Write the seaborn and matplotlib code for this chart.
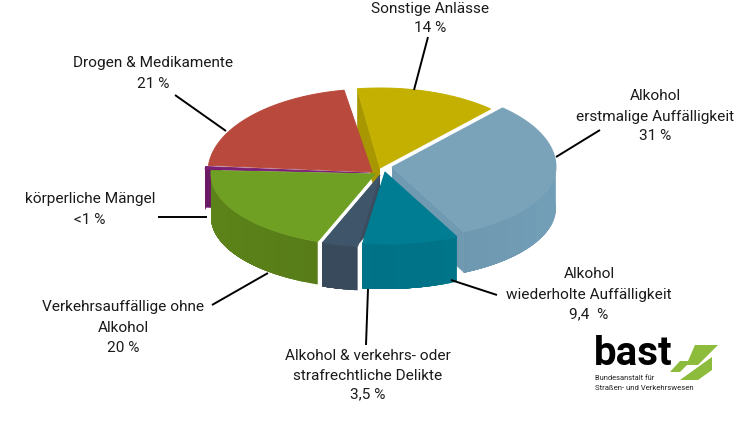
import numpy as np
import matplotlib
matplotlib.use("Agg")
import matplotlib.pyplot as plt
import seaborn as sns

# data, clockwise from the top
shares = [14, 31, 9.4, 3.5, 20, 0.6, 21]
names = ["Sonstige Anlässe", "Alkohol erstmalige Auffälligkeit",
         "Alkohol wiederholte Auffälligkeit",
         "Alkohol & verkehrs- oder strafrechtliche Delikte",
         "Verkehrsauffällige ohne Alkohol", "körperliche Mängel",
         "Drogen & Medikamente"]
top_colors = ["#c4b000", "#7aa3ba", "#007d92", "#3f566a",
              "#70a023", "#7a1f73", "#b8493c"]
side_colors = ["#a89700", "#6f9ab2", "#00768c", "#3b4c5f",
               "#5a8019", "#6a1a64", "#9c3d32"]

# where each slice was pulled to (pixel position of its tip)
tips_x = [380, 392, 385, 380, 375, 369, 372]
tips_y = [168, 167, 172, 175, 174, 173, 172]
depths = [41, 41, 45, 44, 43, 41, 41]
rys_back = [80, 80, 80, 80, 80, 80, 83]
# which cut faces show, and from how far out along the edge
wall_first = [True, False, False, False, False, False, False]
wall_last = [False, True, True, True, True, True, False]
wall_from = [0, 0, 0, 0, 0.9, 0.9, 0]
draw_order = [0, 6, 1, 5, 4, 3, 2]

START = 98
RX, RY_FRONT = 164, 72

sns.set_theme(style="white")
plt.rcParams["font.family"] = ["Roboto", "DejaVu Sans"]

fig, ax = plt.subplots(figsize=(7.5, 4.26), dpi=100)
ax.set_position([0, 0, 1, 1])
ax.set_xlim(0, 750)
ax.set_ylim(426, 0)
ax.axis("off")


def rim(cx, cy, deg, ry_back):
    rad = np.radians(deg)
    s = np.sin(rad)
    ry = np.where(s >= 0, ry_back, RY_FRONT)
    return cx + RX * np.cos(rad), cy - ry * s


ends = START - np.cumsum(shares) * 3.6
begins = np.r_[START, ends[:-1]]

for i in draw_order:
    cx, cy, depth = tips_x[i], tips_y[i], depths[i]
    deg = np.linspace(begins[i], ends[i], 80)
    x, y = rim(cx, cy, deg, rys_back[i])
    # cut faces
    shows = []
    if wall_first[i]:
        shows.append((x[0], y[0]))
    if wall_last[i]:
        shows.append((x[-1], y[-1]))
    for px, py in shows:
        qx = cx + (px - cx) * wall_from[i]
        qy = cy + (py - cy) * wall_from[i]
        ax.fill([qx, px, px, qx], [qy, py, py + depth, qy + depth],
                color=side_colors[i], lw=0, zorder=1)
    # outer wall on the front part only, each step painted to the end of the
    # arc so no seams show
    front = np.sin(np.radians(deg)) < 0.1
    fx, fy, fdeg = x[front], y[front], deg[front]
    base = np.array(matplotlib.colors.to_rgb(side_colors[i]))
    for k in range(0, len(fx) - 1, 6):
        shade = 0.97 + 0.06 * (np.cos(np.radians(fdeg[k]) * 2) + 1) / 2
        ax.fill(np.r_[fx[k:], fx[k:][::-1]],
                np.r_[fy[k:], fy[k:][::-1] + depth],
                color=tuple(np.clip(base * shade, 0, 1)), lw=0, zorder=1)
    # top face
    ax.fill(np.r_[cx, x], np.r_[cy, y], color=top_colors[i], lw=0.7, zorder=1)

# leader lines
leaders = [((428, 37), (414, 90)), ((600, 130), (556, 157)),
           ((497, 295), (451, 280)), ((366, 345), (368, 289)),
           ((212, 305), (268, 273)), ((158, 217), (207, 217)),
           ((175, 95), (226, 131))]
for a, b in leaders:
    ax.plot([a[0], b[0]], [a[1], b[1]], color="black", lw=1.4, zorder=2,
            solid_capstyle="butt")

# labels
labels = [
    (430, [(7, "Sonstige Anlässe"), (27, "14 %")]),
    (655, [(95, "Alkohol"), (116, "erstmalige Auffälligkeit"), (135, "31 %")]),
    (589, [(273, "Alkohol"), (293, "wiederholte Auffälligkeit"), (313, "9,4  %")]),
    (368, [(354, "Alkohol & verkehrs- oder"), (374, "strafrechtliche Delikte"), (393, "3,5 %")]),
    (123, [(306, "Verkehrsauffällige ohne"), (326, "Alkohol"), (346, "20 %")]),
    (90, [(198, "körperliche Mängel"), (218, "<1 %")]),
    (153, [(62, "Drogen & Medikamente"), (83, "21 %")]),
]
for cx, rows in labels:
    for y, txt in rows:
        ax.text(cx, y, txt, ha="center", va="center_baseline", fontsize=11.1,
                color="#1a1a1a", zorder=3)

# logo
ax.text(594, 354, "bast", fontsize=29, fontweight="bold",
        color="black", ha="left", va="center", zorder=3)
ax.text(595, 378.5, "Bundesanstalt für", fontsize=5.4, color="#222222",
        ha="left", va="center", zorder=3)
ax.text(595, 388, "Straßen- und Verkehrswesen", fontsize=5.6, color="#222222",
        ha="left", va="center", zorder=3)
logo_up_x = [695, 718, 698, 687, 680, 670, 680, 688]
logo_up_y = [345, 345, 365, 365, 372, 372, 361, 361]
logo_low_x = [712, 712, 698, 680]
logo_low_y = [357, 370, 380, 380]
ax.fill(logo_up_x, logo_up_y, color="#8dbb3c", lw=0, zorder=3)
ax.fill(logo_low_x, logo_low_y, color="#8dbb3c", lw=0, zorder=3)

fig.savefig("out.png", dpi=100, facecolor="white")
